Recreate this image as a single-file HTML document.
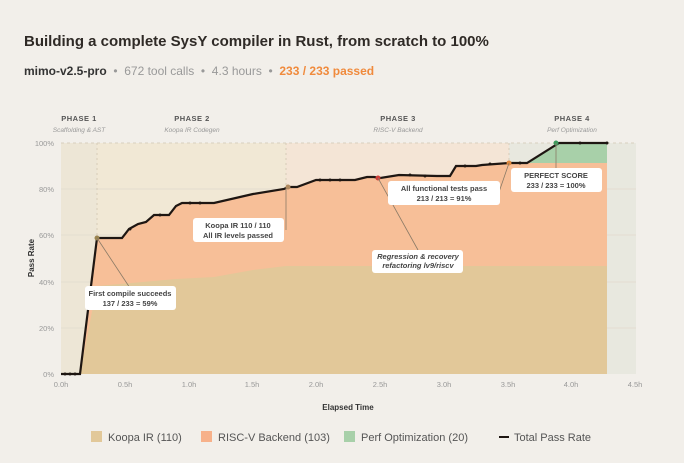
<!DOCTYPE html><html><head><style>
body{margin:0;width:684px;height:463px;background:#f2efea;font-family:"Liberation Sans",sans-serif;overflow:hidden;position:relative}
.t{position:absolute;left:24px;top:33px;font-size:15px;font-weight:bold;color:#2f2a26}
.s{position:absolute;left:24px;top:64px;font-size:12px;color:#999}
.s b{color:#333}.s .o{color:#f08a3c;font-weight:bold}
</style></head><body>
<div class="t">Building a complete SysY compiler in Rust, from scratch to 100%</div>
<div class="s"><b>mimo-v2.5-pro</b> &nbsp;•&nbsp; 672 tool calls &nbsp;•&nbsp; 4.3 hours &nbsp;•&nbsp; <span class="o">233 / 233 passed</span></div>
<svg width="684" height="463" style="position:absolute;left:0;top:0" font-family="Liberation Sans">
<rect x="61" y="143" width="36" height="231" fill="#ede6d6"/>
<rect x="97" y="143" width="189" height="231" fill="#f1e8d5"/>
<rect x="286" y="143" width="223" height="231" fill="#f4e5d6"/>
<rect x="509" y="143" width="127" height="231" fill="#e8e8df"/>
<g stroke="#e4ddd0" stroke-width="1"><line x1="61" x2="636" y1="189" y2="189"/><line x1="61" x2="636" y1="235" y2="235"/><line x1="61" x2="636" y1="282" y2="282"/><line x1="61" x2="636" y1="328" y2="328"/></g>
<line x1="61" x2="636" y1="143" y2="143" stroke="#d8cfbf" stroke-dasharray="3,3"/>
<g stroke="#d6ccb8" stroke-dasharray="2,3"><line x1="97" x2="97" y1="143" y2="374"/><line x1="286" x2="286" y1="143" y2="374"/><line x1="509" x2="509" y1="143" y2="374"/></g>
<polygon fill="#f7bf98" points="80,374 97,238 122,238 129,229 138,224 146,222 154,215 169,215 176,206 182,203 214,203 253,194 284,189 288,187 297,187 316,180 355,180 367,177 374,177 380,178 399,175 437,176 450,176 456,166 476,166 482,165 509,163 607,163 607,374"/>
<polygon fill="#a8d0a9" points="527,163 559,143 607,143 607,163"/>
<polygon fill="#e2c899" points="80,374 97,286 176,279 214,277 253,270 286,266 607,266 607,374"/>
<polyline fill="none" stroke="#1e1612" stroke-width="2.2" points="61,374 80,374 97,238 122,238 129,229 138,224 146,222 154,215 169,215 176,206 182,203 214,203 253,194 284,189 288,187 297,187 316,180 355,180 367,177 374,177 380,178 399,175 437,176 450,176 456,166 476,166 482,165 509,163 527,163 559,143 607,143"/>
<g fill="#1e1612"><circle cx="65" cy="374" r="1.5"/><circle cx="70" cy="374" r="1.5"/><circle cx="75" cy="374" r="1.5"/><circle cx="130" cy="229" r="1.5"/><circle cx="160" cy="215" r="1.5"/><circle cx="190" cy="203" r="1.5"/><circle cx="200" cy="203" r="1.5"/><circle cx="320" cy="180" r="1.5"/><circle cx="330" cy="180" r="1.5"/><circle cx="340" cy="180" r="1.5"/><circle cx="410" cy="175" r="1.5"/><circle cx="425" cy="176" r="1.5"/><circle cx="465" cy="166" r="1.5"/><circle cx="490" cy="164" r="1.5"/><circle cx="520" cy="163" r="1.5"/><circle cx="580" cy="143" r="1.5"/><circle cx="607" cy="143" r="1.5"/></g>
<circle cx="97" cy="238" r="2.5" fill="#9a8450"/><circle cx="288" cy="187" r="2.5" fill="#b08a60"/><circle cx="378" cy="178" r="2.5" fill="#d0403a"/><circle cx="509" cy="163" r="2.5" fill="#e08a40"/><circle cx="556" cy="143" r="2.5" fill="#3c9a5c"/>
<g stroke="#8a7a66" stroke-width="0.8"><line x1="97" y1="238" x2="130" y2="288"/><line x1="286" y1="188" x2="286" y2="230"/><line x1="378" y1="178" x2="418" y2="250"/><line x1="509" y1="163" x2="498" y2="195"/><line x1="556" y1="143" x2="556" y2="170"/></g>
<g font-size="7.5" font-weight="bold" fill="#444" text-anchor="middle">
<rect x="85" y="286" width="91" height="24" rx="3" fill="#fff"/><text x="130" y="296">First compile succeeds</text><text x="130" y="306">137 / 233 = 59%</text>
<rect x="193" y="218" width="91" height="24" rx="3" fill="#fff"/><text x="238" y="228">Koopa IR 110 / 110</text><text x="238" y="238">All IR levels passed</text>
<rect x="388" y="181" width="112" height="24" rx="3" fill="#fff"/><text x="444" y="191">All functional tests pass</text><text x="444" y="201">213 / 213 = 91%</text>
<rect x="511" y="168" width="91" height="24" rx="3" fill="#fff"/><text x="556" y="178">PERFECT SCORE</text><text x="556" y="188">233 / 233 = 100%</text>
<rect x="372" y="250" width="91" height="23" rx="3" fill="#fff"/><text x="418" y="259" font-style="italic">Regression &amp; recovery</text><text x="418" y="268" font-style="italic">refactoring lv9/riscv</text>
</g>
<g font-size="7.5" font-weight="bold" fill="#555" text-anchor="middle" letter-spacing="0.5"><text x="79" y="121">PHASE 1</text><text x="192" y="121">PHASE 2</text><text x="398" y="121">PHASE 3</text><text x="572" y="121">PHASE 4</text></g>
<g font-size="6.5" font-style="italic" fill="#999" text-anchor="middle"><text x="79" y="132">Scaffolding &amp; AST</text><text x="192" y="132">Koopa IR Codegen</text><text x="398" y="132">RISC-V Backend</text><text x="572" y="132">Perf Optimization</text></g>
<g font-size="7.5" fill="#999" text-anchor="end"><text x="54" y="146">100%</text><text x="54" y="192">80%</text><text x="54" y="238">60%</text><text x="54" y="285">40%</text><text x="54" y="331">20%</text><text x="54" y="377">0%</text></g>
<g font-size="7.5" fill="#999" text-anchor="middle"><text x="61" y="387">0.0h</text><text x="125" y="387">0.5h</text><text x="189" y="387">1.0h</text><text x="252" y="387">1.5h</text><text x="316" y="387">2.0h</text><text x="380" y="387">2.5h</text><text x="444" y="387">3.0h</text><text x="508" y="387">3.5h</text><text x="571" y="387">4.0h</text><text x="635" y="387">4.5h</text></g>
<text x="348" y="410" font-size="8" font-weight="bold" fill="#333" text-anchor="middle">Elapsed Time</text>
<text x="34" y="258" font-size="8" font-weight="bold" fill="#333" text-anchor="middle" transform="rotate(-90 34 258)">Pass Rate</text>
<g font-size="11" fill="#555">
<rect x="91" y="431" width="11" height="11" fill="#e2c899"/><text x="108" y="441">Koopa IR (110)</text>
<rect x="201" y="431" width="11" height="11" fill="#f7b18a"/><text x="218" y="441">RISC-V Backend (103)</text>
<rect x="344" y="431" width="11" height="11" fill="#a8d0a9"/><text x="361" y="441">Perf Optimization (20)</text>
<line x1="499" x2="509" y1="437" y2="437" stroke="#1e1612" stroke-width="2"/><text x="514" y="441">Total Pass Rate</text>
</g>
</svg>
</body></html>
